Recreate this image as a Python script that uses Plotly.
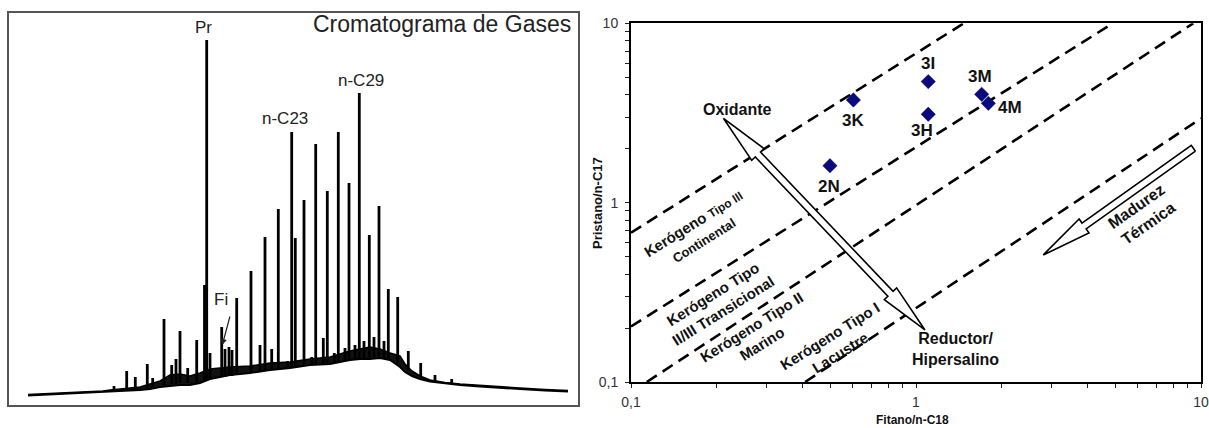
import numpy as np
import plotly.graph_objects as go

W, H = 1209, 428

# ---------------- Left panel: gas chromatogram (arbitrary units)
band_x = [28, 50, 70, 90, 103, 110, 120, 130, 140, 150, 160, 170, 180, 190, 200, 210, 230, 250,
          270, 290, 310, 330, 350, 360, 370, 380, 390, 400, 405, 412, 420, 430, 445, 460, 480,
          500, 520, 545, 568]
band_low = [9.5, 10.5, 11.5, 12.5, 13, 13.5, 14, 14.5, 15, 16, 18, 19, 20, 20, 22, 26, 30, 32,
            35, 37, 40, 41, 45, 46, 46, 47, 45, 38, 33, 29, 26, 23.5, 21.5, 20, 18.5,
            17, 16, 14.5, 13.5]
band_high = [10.5, 11.5, 12.5, 13.5, 14, 15, 16, 17, 18, 21, 24, 30, 31, 29, 32, 36, 38, 39,
             42, 43, 46, 48, 54, 56, 58, 56, 52, 49, 41, 34, 29, 25, 22.5, 21, 19.5,
             18, 17, 15.5, 14.5]

peak_x = [114, 126.7, 135.3, 147.3, 152.7, 164, 171.7, 176, 180, 187.7, 196.7, 204.5, 206.7,
          210, 221.7, 225, 229, 232, 236.7, 251, 260, 265, 271.7, 278.3, 287.7, 291.7, 295.3,
          304, 311.7, 315.7, 323.3, 327.3, 334.3, 338.3, 345, 349, 355, 359.3, 364, 369.3,
          374, 379, 384, 388.3, 397.7, 408.3, 420.7, 435, 451.7, 471.7, 496.7, 525.7]
peak_base = [14, 15, 16, 17, 18, 20, 21, 21, 22, 22, 23, 24, 25,
             26, 28, 28, 29, 29, 30, 32, 33, 34, 35, 36, 37, 38, 38,
             39, 40, 40, 41, 42, 43, 43, 44, 45, 46, 46, 46, 47,
             47, 47, 47, 46, 42, 35, 28, 23, 22, 19, 17, 15.5]
peak_top = [19, 34, 28, 41, 27, 86, 40, 46, 74, 37, 65, 120, 365,
            52, 78, 56, 58, 55, 107, 134, 60, 168, 56, 196, 44, 273, 167,
            205, 48, 261, 67, 214, 52, 273, 57, 222, 60, 312, 64, 170,
            68, 199, 64, 116, 108, 54, 42, 30, 26, 21, 18, 17]

chrom_labels = ["Pr", "n-C23", "n-C29"]
chrom_label_x = [203, 285, 361]
chrom_label_y = [378, 287, 325]
fi_peak = (222.3, 60)

# ---------------- Right panel: Pristano/n-C17 vs Fitano/n-C18
samples = ["3K", "2N", "3I", "3H", "3M", "4M"]
fitano_c18 = [0.603, 0.499, 1.104, 1.104, 1.70, 1.794]
pristano_c17 = [3.735, 1.607, 4.73, 3.11, 4.02, 3.58]
label_dx = [0, -1, 0, -6, -2, 22]
label_dy = [-20, -21, 18, -16, 18, -4]

boundary_k = [6.8, 2.04, 0.967, 0.258]
boundary_s = [1.0, 1.0, 1.043, 1.058]

redox_x = [0.211, 1.075]        # Oxidante tip, Reductor tip
redox_y = [2.953, 0.195]
maturity_x = [9.40, 2.797]      # tail, tip
maturity_y = [2.01, 0.511]

zone_text = [
    "<b>Kerógeno <span style='font-size:12px'>Tipo III</span><br><span style='font-size:13px'>Continental</span></b>",
    "<b>Kerógeno Tipo<br>II/III Transicional</b>",
    "<b>Kerógeno Tipo II<br>Marino</b>",
    "<b>Kerógeno Tipo I<br>Lacustre</b>",
]
zone_x = [0.1728, 0.2024, 0.2768, 0.5197]
zone_y = [0.693, 0.276, 0.181, 0.1625]

# ---------------- layout geometry (pixels)
L_dom_x = [9 / W, 578 / W]
L_dom_y = [(H - 405) / H, (H - 13) / H]
R_dom_x = [631 / W, 1201 / W]
R_dom_y = [(H - 382) / H, (H - 23.3) / H]
sx = (R_dom_x[1] - R_dom_x[0]) * W / 2.0   # px per decade
sy = (R_dom_y[1] - R_dom_y[0]) * H / 2.0

FONT = "Liberation Sans, Arial, sans-serif"
fig = go.Figure()

# chromatogram baseline band
fig.add_trace(go.Scatter(x=band_x, y=band_low, mode="lines", line=dict(color="black", width=2),
                         xaxis="x", yaxis="y", showlegend=False, hoverinfo="skip"))
fig.add_trace(go.Scatter(x=band_x, y=band_high, mode="lines", line=dict(color="black", width=1.5),
                         fill="tonexty", fillcolor="#111",
                         xaxis="x", yaxis="y", showlegend=False, hoverinfo="skip"))
px_, py_ = [], []
for x, b, t in zip(peak_x, peak_base, peak_top):
    px_ += [x, x, None]
    py_ += [b, t, None]
fig.add_trace(go.Scatter(x=px_, y=py_, mode="lines", line=dict(color="black", width=2.8),
                         xaxis="x", yaxis="y", showlegend=False, hoverinfo="skip"))

# boundary dashed lines
for k, s in zip(boundary_k, boundary_s):
    x_lo = max(0.1, (0.1 / k) ** (1 / s))
    x_hi = min(10.0, (10.0 / k) ** (1 / s))
    xs = np.array([x_lo, x_hi])
    fig.add_trace(go.Scatter(x=xs, y=k * xs ** s, mode="lines",
                             line=dict(color="black", width=2.6, dash="12px,7px"),
                             xaxis="x2", yaxis="y2", showlegend=False, hoverinfo="skip"))


def arrow_poly(p0, p1, double, sw=3.6, hw=8.5, hl=50):
    P0 = np.array([np.log10(p0[0]) * sx, np.log10(p0[1]) * sy])
    P1 = np.array([np.log10(p1[0]) * sx, np.log10(p1[1]) * sy])
    d = P1 - P0
    d = d / np.hypot(*d)
    n = np.array([-d[1], d[0]])
    B1 = P1 - d * hl
    if double:
        B0 = P0 + d * hl
        pts = [P0, B0 + n * hw, B0 + n * sw, B1 + n * sw, B1 + n * hw, P1,
               B1 - n * hw, B1 - n * sw, B0 - n * sw, B0 - n * hw, P0]
    else:
        pts = [P0 + n * sw, B1 + n * sw, B1 + n * hw, P1, B1 - n * hw,
               B1 - n * sw, P0 - n * sw, P0 + n * sw]
    pts = np.array(pts)
    return 10 ** (pts[:, 0] / sx), 10 ** (pts[:, 1] / sy)


for (xs, ys, dbl) in [(redox_x, redox_y, True), (maturity_x, maturity_y, False)]:
    ax_, ay_ = arrow_poly((xs[0], ys[0]), (xs[1], ys[1]), dbl)
    fig.add_trace(go.Scatter(x=ax_, y=ay_, mode="lines", fill="toself", fillcolor="white",
                             line=dict(color="black", width=1.6),
                             xaxis="x2", yaxis="y2", showlegend=False, hoverinfo="skip"))

fig.add_trace(go.Scatter(x=fitano_c18, y=pristano_c17, mode="markers",
                         marker=dict(symbol="diamond", size=11, color="#0a0a80",
                                     line=dict(color="#000050", width=0.5)),
                         xaxis="x2", yaxis="y2", showlegend=False))

ann = []
# left panel texts
ann.append(dict(x=573, y=381, xref="x", yref="y", text="Cromatograma de Gases", showarrow=False,
                xanchor="right", yanchor="middle", font=dict(family=FONT, size=23, color="#222")))
for t, x, y in zip(chrom_labels, chrom_label_x, chrom_label_y):
    ann.append(dict(x=x, y=y, xref="x", yref="y", text=t, showarrow=False,
                    font=dict(family=FONT, size=17, color="#222")))
ann.append(dict(x=fi_peak[0] - 1, y=fi_peak[1] + 46, xref="x", yref="y", text="Fi", showarrow=False,
                font=dict(family=FONT, size=17, color="#222")))
ann.append(dict(x=fi_peak[0], y=fi_peak[1], xref="x", yref="y", text="", showarrow=True,
                ax=8, ay=-30, arrowhead=2, arrowsize=1, arrowwidth=1.2, arrowcolor="#222"))

# right panel texts
for s_, x, y, dx, dy in zip(samples, fitano_c18, pristano_c17, label_dx, label_dy):
    ann.append(dict(x=np.log10(x), y=np.log10(y), xref="x2", yref="y2", text="<b>%s</b>" % s_,
                    showarrow=False, xshift=dx, yshift=dy,
                    font=dict(family=FONT, size=17, color="#111")))
ann.append(dict(x=np.log10(redox_x[0]), y=np.log10(redox_y[0]), xref="x2", yref="y2",
                text="<b>Oxidante</b>", showarrow=False, xshift=14, yshift=9,
                font=dict(family=FONT, size=16, color="#111")))
ann.append(dict(x=np.log10(redox_x[1]), y=np.log10(redox_y[1]), xref="x2", yref="y2",
                text="<b>Reductor/<br>Hipersalino</b>", showarrow=False, xshift=31, yshift=-19,
                font=dict(family=FONT, size=16, color="#111")))
ann.append(dict(x=np.log10(6.223), y=np.log10(0.853), xref="x2", yref="y2",
                text="<b>Madurez<br>Térmica</b>", showarrow=False, textangle=-35,
                font=dict(family=FONT, size=16, color="#111")))
for t, x, y in zip(zone_text, zone_x, zone_y):
    ann.append(dict(x=np.log10(x), y=np.log10(y), xref="x2", yref="y2", text=t,
                    showarrow=False, textangle=-32,
                    font=dict(family=FONT, size=15, color="#111")))

# axis titles
ann.append(dict(x=912.6 / W, y=(H - 420) / H, xref="paper", yref="paper", text="<b>Fitano/n-C18</b>",
                xanchor="center", yanchor="middle",
                showarrow=False, font=dict(family=FONT, size=12, color="#111")))
ann.append(dict(x=597 / W, y=(H - 203) / H, xref="paper", yref="paper", text="<b>Pristano/n-C17</b>",
                xanchor="center", yanchor="middle",
                showarrow=False, textangle=-90, font=dict(family=FONT, size=13, color="#111")))

tick_vals = [m * 10.0 ** e for e in (-1, 0) for m in range(1, 10)] + [10.0]
tick_text = ["0,1" if v == 0.1 else "1" if v == 1 else "10" if v == 10 else "" for v in tick_vals]

fig.update_layout(
    width=W, height=H, margin=dict(l=0, r=0, t=0, b=0, autoexpand=False),
    paper_bgcolor="white", plot_bgcolor="white",
    annotations=ann,
    xaxis=dict(domain=L_dom_x, range=[9, 578], showgrid=False, zeroline=False, showticklabels=False,
               automargin=False,
               ticks="", showline=True, mirror=True, linecolor="#555", linewidth=2),
    yaxis=dict(domain=L_dom_y, range=[0, 392], showgrid=False, zeroline=False, showticklabels=False,
               automargin=False,
               ticks="", showline=True, mirror=True, linecolor="#555", linewidth=2),
    xaxis2=dict(domain=R_dom_x, type="log", range=[-1, 1], anchor="y2", showgrid=False, zeroline=False,
                automargin=False,
                tickvals=tick_vals, ticktext=tick_text, ticks="outside", ticklen=4, tickwidth=1.2,
                tickcolor="#222", showline=True, mirror=True, linecolor="black", linewidth=2,
                ticklabelstandoff=2, tickfont=dict(family=FONT, size=14, color="#333")),
    yaxis2=dict(domain=R_dom_y, type="log", range=[-1, 1], anchor="x2", showgrid=False, zeroline=False,
                automargin=False,
                tickvals=tick_vals, ticktext=tick_text, ticks="outside", ticklen=4, tickwidth=1.2,
                tickcolor="#222", showline=True, mirror=True, linecolor="black", linewidth=2,
                ticklabelstandoff=4, tickfont=dict(family=FONT, size=14, color="#333")),
)

fig.write_html("out.html", config={"displayModeBar": False},
               post_script="document.body.style.margin='0px';document.body.style.padding='0px';")
